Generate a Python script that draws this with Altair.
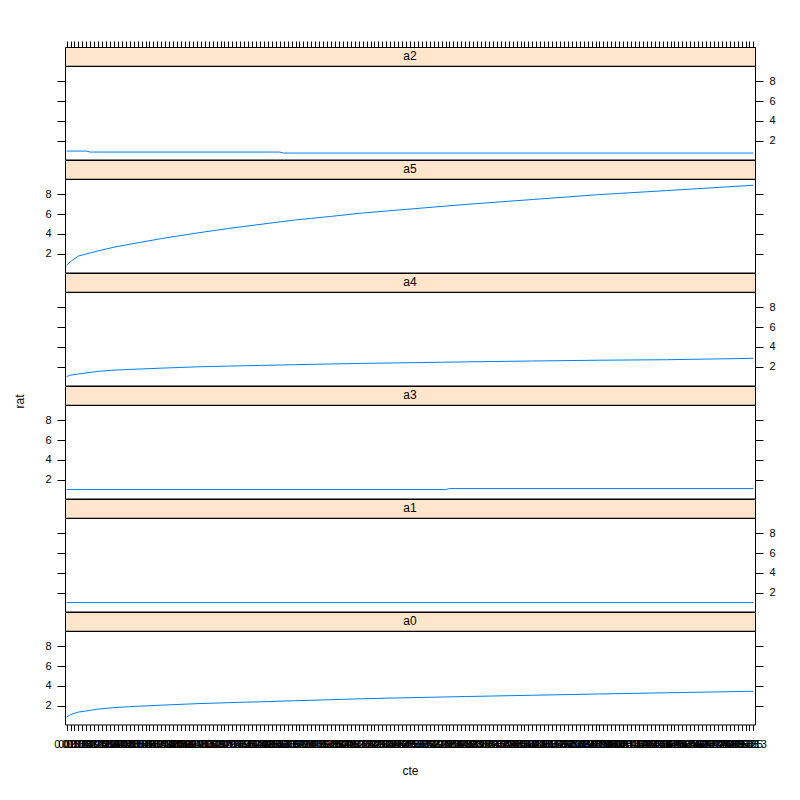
import altair as alt
import pandas as pd

FONT = "Liberation Sans"
N = 175
# factor levels of cte (tick labels along x)
LEVELS = ["0"] + [f"{5 * i / (N - 1):.4f}".rstrip("0").rstrip(".") for i in range(1, N)]

PANELS = ["a2", "a5", "a4", "a3", "a1", "a0"]          # top to bottom
LEFT_LABELS = {"a2": False, "a5": True, "a4": False, "a3": True, "a1": False, "a0": True}

IDX = [1, 2, 4, 9, 13, 17, 25, 34, 42, 51, 59, 68, 76, 85, 102, 119, 136, 153, 175]
A5 = [0.85, 1.2, 1.76, 2.28, 2.65, 2.95, 3.52, 4.08, 4.54, 5.0, 5.4, 5.76, 6.1, 6.4, 6.96, 7.46, 7.96, 8.36, 8.9]
A4 = [1.0, 1.15, 1.26, 1.53, 1.65, 1.72, 1.85, 1.98, 2.06, 2.13, 2.2, 2.27, 2.33, 2.38, 2.48, 2.57, 2.65, 2.7, 2.84]
A0 = [0.85, 1.1, 1.35, 1.65, 1.8, 1.9, 2.05, 2.2, 2.3, 2.4, 2.5, 2.6, 2.7, 2.78, 2.92, 3.05, 3.18, 3.3, 3.45]
A2_IDX = [1, 6, 7, 55, 56, 175]
A2 = [0.95, 0.95, 0.85, 0.85, 0.75, 0.75]
A3_IDX = [1, 97, 98, 175]
A3 = [1.0, 1.0, 1.1, 1.1]
A1_IDX = [1, 175]
A1 = [1.0, 1.0]

SERIES = {
    "a5": (IDX, A5),
    "a4": (IDX, A4),
    "a0": (IDX, A0),
    "a2": (A2_IDX, A2),
    "a3": (A3_IDX, A3),
    "a1": (A1_IDX, A1),
}

rows = []
for p, (ix, vals) in SERIES.items():
    for i, v in zip(ix, vals):
        rows.append({"panel": p, "cte": LEVELS[i - 1], "idx": i, "rat": v})
df = pd.DataFrame(rows)

XSCALE = alt.Scale(domain=LEVELS, type="point", padding=0.4)
YSCALE = alt.Scale(domain=[0.1, 9.53], nice=False, zero=False)
W = 690
PH = 93.5
SH = 18.75


def yaxis(orient, labels, title=None):
    kw = dict(orient=orient, values=[2, 4, 6, 8], labels=labels, tickSize=8,
              labelPadding=6, domain=False, grid=False, labelFontSize=11,
              tickColor="black", labelColor="black", labelFont=FONT, title=title)
    if title:
        kw.update(titleX=-39, titleY=-4, titleFontSize=12, titleFontWeight="normal",
                  titleFont=FONT, titleColor="black")
    return alt.Axis(**kw)


def panel(name):
    d = df[df.panel == name]
    left = LEFT_LABELS[name]
    if name == "a0":
        xaxis = alt.Axis(orient="bottom", labelAngle=0, labelOverlap=False, tickSize=6,
                         labelPadding=8, domain=False, grid=False, labelFontSize=11,
                         labelFont=FONT, labelColor="black", tickColor="black",
                         title="cte", titleFont=FONT, titleFontSize=12,
                         titleFontWeight="normal", titlePadding=16, titleColor="black")
    else:
        xaxis = None
    ytitle = "rat" if name == "a3" else None
    base = alt.Chart(d)
    l1 = base.mark_line(color="#0080FF", strokeWidth=1).encode(
        x=alt.X("cte:O", scale=XSCALE, axis=xaxis),
        y=alt.Y("rat:Q", scale=YSCALE, axis=yaxis("left", left, ytitle)),
        order="idx:Q",
    )
    l2 = base.mark_line(opacity=0).encode(
        x=alt.X("cte:O", scale=XSCALE, axis=xaxis),
        y=alt.Y("rat:Q", scale=YSCALE, axis=yaxis("right", not left)),
        order="idx:Q",
    )
    return alt.layer(l1, l2).resolve_scale(y="independent").properties(
        width=W, height=PH, view=alt.ViewBackground(stroke="black", strokeWidth=1)
    )


def strip(name, top_axis):
    sd = pd.DataFrame({"s": [name], "cte": [LEVELS[0]]})
    t = alt.Chart(sd).mark_text(font=FONT, fontSize=12, baseline="middle", align="center",
                                color="black").encode(
        text="s:N", x=alt.value(W / 2), y=alt.value(SH / 2)
    )
    layers = [t]
    if top_axis:
        layers.append(alt.Chart(sd).mark_point(opacity=0).encode(
            x=alt.X("cte:O", scale=XSCALE,
                    axis=alt.Axis(orient="top", labels=False, tickSize=6, domain=False,
                                  grid=False, title=None, tickColor="black")),
            y=alt.value(0),
        ))
    return alt.layer(*layers).properties(
        width=W, height=SH,
        view=alt.ViewBackground(fill="#FFE5CC", stroke="black", strokeWidth=1)
    )


charts = []
for k, p in enumerate(PANELS):
    charts.append(strip(p, k == 0))
    charts.append(panel(p))

chart = alt.vconcat(*charts, spacing=0, bounds="flush").resolve_scale(
    x="independent", y="independent"
).properties(
    padding={"top": 32, "left": 4, "right": 5, "bottom": 5}
).configure_view(stroke="black", strokeWidth=1).configure(background="white")

chart.save("out.html", embed_options={"renderer": "svg", "actions": False})
